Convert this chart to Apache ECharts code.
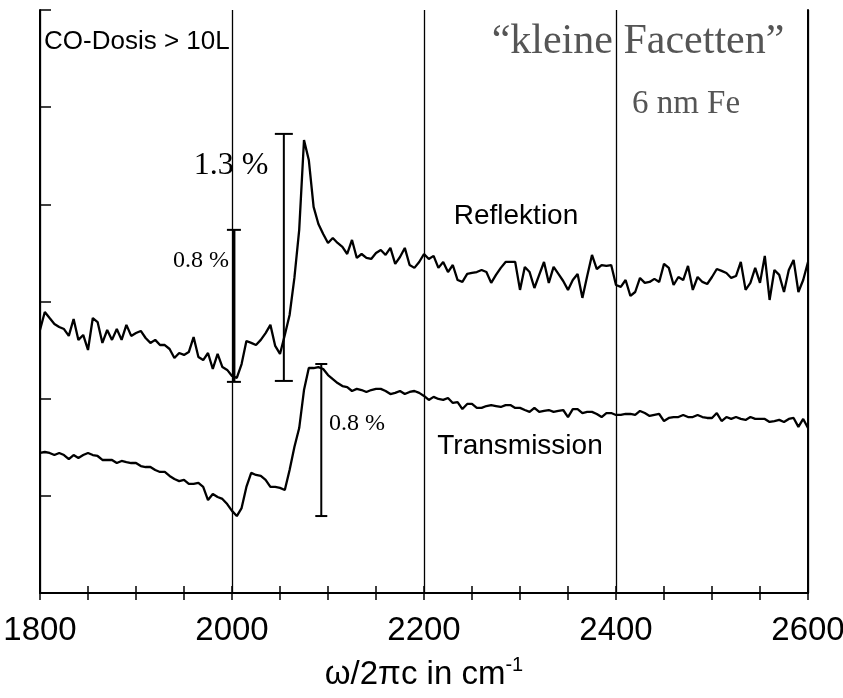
<!DOCTYPE html>
<html>
<head>
<meta charset="utf-8">
<script src="https://cdn.jsdelivr.net/npm/echarts@6/dist/echarts.min.js"></script>
<style>
  html, body { margin: 0; padding: 0; background: #fff; }
  #chart { width: 843px; height: 698px; }
</style>
</head>
<body>
<div id="chart"></div>
<script>
// Spectra sampled every 5 cm^-1 from 1800 to 2600 cm^-1, values in % (curves vertically offset)
const waveStart = 1800;
const waveStep = 5;

const reflection = [
  1.384, 1.479, 1.447, 1.416, 1.400, 1.389, 1.353, 1.442, 1.332, 1.358,
  1.279, 1.447, 1.426, 1.316, 1.384, 1.332, 1.389, 1.332, 1.411, 1.353,
  1.368, 1.379, 1.342, 1.316, 1.332, 1.305, 1.305, 1.284, 1.237, 1.263,
  1.253, 1.268, 1.347, 1.242, 1.226, 1.263, 1.179, 1.258, 1.189, 1.174,
  1.142, 1.132, 1.205, 1.326, 1.316, 1.305, 1.332, 1.368, 1.411, 1.300,
  1.258, 1.358, 1.463, 1.658, 1.911, 2.384, 2.279, 2.032, 1.942, 1.889,
  1.842, 1.868, 1.842, 1.821, 1.784, 1.858, 1.763, 1.784, 1.763, 1.758,
  1.789, 1.805, 1.779, 1.816, 1.732, 1.768, 1.816, 1.726, 1.711, 1.742,
  1.784, 1.758, 1.774, 1.711, 1.742, 1.689, 1.726, 1.647, 1.637, 1.679,
  1.684, 1.689, 1.700, 1.689, 1.632, 1.674, 1.711, 1.742, 1.742, 1.742,
  1.595, 1.716, 1.689, 1.605, 1.674, 1.742, 1.632, 1.716, 1.679, 1.642,
  1.595, 1.647, 1.679, 1.553, 1.668, 1.779, 1.705, 1.726, 1.721, 1.726,
  1.621, 1.611, 1.647, 1.563, 1.584, 1.658, 1.632, 1.637, 1.653, 1.637,
  1.732, 1.711, 1.621, 1.663, 1.647, 1.721, 1.595, 1.663, 1.637, 1.626,
  1.663, 1.705, 1.695, 1.684, 1.658, 1.668, 1.742, 1.595, 1.632, 1.711,
  1.632, 1.774, 1.542, 1.700, 1.674, 1.584, 1.700, 1.753, 1.584, 1.647,
  1.742
];

const transmission = [
  0.737, 0.742, 0.737, 0.726, 0.737, 0.726, 0.705, 0.726, 0.711, 0.726,
  0.737, 0.726, 0.721, 0.700, 0.700, 0.700, 0.684, 0.695, 0.689, 0.684,
  0.684, 0.668, 0.663, 0.663, 0.647, 0.637, 0.637, 0.616, 0.600, 0.589,
  0.595, 0.574, 0.574, 0.579, 0.558, 0.489, 0.521, 0.505, 0.495, 0.468,
  0.432, 0.405, 0.447, 0.558, 0.632, 0.621, 0.616, 0.595, 0.558, 0.558,
  0.553, 0.542, 0.647, 0.768, 0.868, 1.068, 1.184, 1.184, 1.189, 1.179,
  1.147, 1.126, 1.105, 1.089, 1.084, 1.063, 1.074, 1.068, 1.058, 1.068,
  1.074, 1.074, 1.063, 1.047, 1.053, 1.063, 1.047, 1.058, 1.063, 1.053,
  1.037, 1.016, 1.032, 1.021, 1.016, 1.026, 1.000, 1.005, 0.968, 0.995,
  0.995, 0.974, 0.974, 0.984, 0.989, 0.984, 0.979, 0.989, 0.989, 0.974,
  0.974, 0.963, 0.953, 0.974, 0.953, 0.958, 0.963, 0.953, 0.958, 0.963,
  0.926, 0.968, 0.968, 0.947, 0.953, 0.953, 0.942, 0.926, 0.947, 0.947,
  0.937, 0.937, 0.942, 0.942, 0.937, 0.958, 0.947, 0.932, 0.937, 0.942,
  0.905, 0.921, 0.926, 0.926, 0.937, 0.926, 0.926, 0.937, 0.926, 0.921,
  0.921, 0.947, 0.905, 0.926, 0.916, 0.926, 0.916, 0.911, 0.926, 0.916,
  0.916, 0.916, 0.900, 0.905, 0.911, 0.900, 0.916, 0.921, 0.874, 0.916,
  0.868
];

// Scale bars: position (cm^-1), lower end (%), length (%)
const scaleBarWave = [2002, 2054, 2093];
const scaleBarBase = [1.111, 1.116, 0.405];
const scaleBarSize = [0.8, 1.3, 0.8];
const scaleBarLabels = ['0.8 %', '1.3 %', '0.8 %'];

const xTicks = [1800, 2000, 2200, 2400, 2600];
const yMax = 3.068;

const toPairs = arr => arr.map((v, i) => [waveStart + i * waveStep, v]);

const sans = "'Liberation Sans', Arial, sans-serif";
const serif = "'Liberation Serif', 'Times New Roman', serif";

const chart = echarts.init(document.getElementById('chart'), null, { renderer: 'canvas' });

const barData = scaleBarWave.map((w, i) => [w, scaleBarBase[i], scaleBarBase[i] + scaleBarSize[i]]);
const capHalf = [7, 9, 6];
const barWidth = [3, 2, 2];

chart.setOption({
  animation: false,
  backgroundColor: '#fff',
  grid: { left: 40, right: 35, top: 10, bottom: 105, containLabel: false, outerBoundsMode: 'none' },
  xAxis: [
    {
      type: 'value', min: xTicks[0], max: xTicks[xTicks.length - 1], interval: 200,
      position: 'bottom',
      axisLine: { lineStyle: { color: '#000', width: 2 } },
      axisTick: { inside: true, length: 7, lineStyle: { color: '#000', width: 1.5 } },
      minorTick: { show: true, splitNumber: 4, length: 7, lineStyle: { color: '#000', width: 1.5 } },
      axisLabel: { color: '#000', fontSize: 33, fontFamily: sans, margin: 21, formatter: v => String(v) },
      splitLine: { show: true, lineStyle: { color: '#000', width: 1.3 } },
      name: '{a|ω/2πc in cm}{b|-1}',
      nameLocation: 'middle',
      nameGap: 62,
      nameTextStyle: {
        rich: {
          a: { fontSize: 33, fontFamily: sans, color: '#000', lineHeight: 40 },
          b: { fontSize: 20, fontFamily: sans, color: '#000', lineHeight: 20, verticalAlign: 'top' }
        }
      }
    },
    {
      type: 'value', min: xTicks[0], max: xTicks[xTicks.length - 1], interval: 200,
      position: 'top',
      axisLine: { lineStyle: { color: '#000', width: 2 } },
      axisTick: { inside: true, length: 7, lineStyle: { color: '#000', width: 1.5 } },
      minorTick: { show: true, splitNumber: 4, length: 7, lineStyle: { color: '#000', width: 1.5 } },
      axisLabel: { show: false },
      splitLine: { show: false }
    }
  ],
  yAxis: [
    {
      type: 'value', min: 0, max: yMax, interval: yMax / 6,
      position: 'left',
      axisLine: { show: true, lineStyle: { color: '#000', width: 2 } },
      axisTick: { show: true, inside: true, length: 11, lineStyle: { color: '#000', width: 1.5 } },
      axisLabel: { show: false },
      splitLine: { show: false }
    },
    {
      type: 'value', min: 0, max: yMax,
      position: 'right',
      axisLine: { show: true, lineStyle: { color: '#000', width: 2 } },
      axisTick: { show: false },
      axisLabel: { show: false },
      splitLine: { show: false }
    }
  ],
  series: [
    {
      name: 'Reflektion', type: 'line', data: toPairs(reflection),
      showSymbol: false, symbol: 'none',
      lineStyle: { color: '#000', width: 2.3 }, z: 5
    },
    {
      name: 'Transmission', type: 'line', data: toPairs(transmission),
      showSymbol: false, symbol: 'none',
      lineStyle: { color: '#000', width: 2.3 }, z: 5
    },
    {
      name: 'scale', type: 'custom', data: barData, z: 6,
      renderItem: function (params, api) {
        const i = params.dataIndex;
        const lo = api.coord([api.value(0), api.value(1)]);
        const hi = api.coord([api.value(0), api.value(2)]);
        const h = capHalf[i];
        const st = { stroke: '#000', lineWidth: barWidth[i] };
        const capSt = { stroke: '#000', lineWidth: 2 };
        return {
          type: 'group',
          children: [
            { type: 'line', shape: { x1: lo[0], y1: lo[1], x2: hi[0], y2: hi[1] }, style: st },
            { type: 'line', shape: { x1: lo[0] - h, y1: lo[1], x2: lo[0] + h, y2: lo[1] }, style: capSt },
            { type: 'line', shape: { x1: hi[0] - h, y1: hi[1], x2: hi[0] + h, y2: hi[1] }, style: capSt }
          ]
        };
      }
    }
  ],
  graphic: [
    { type: 'text', left: 44, top: 29, style: { text: 'CO-Dosis > 10L', font: '26px ' + sans, fill: '#000' } },
    { type: 'text', x: 638, y: 42, style: { text: '“kleine Facetten”', font: '42px ' + serif, fill: '#555', textAlign: 'center', textVerticalAlign: 'middle' } },
    { type: 'text', x: 686, y: 104, style: { text: '6 nm Fe', font: '33px ' + serif, fill: '#555', textAlign: 'center', textVerticalAlign: 'middle' } },
    { type: 'text', x: 231, y: 166, style: { text: scaleBarLabels[1], font: '32px ' + serif, fill: '#000', textAlign: 'center', textVerticalAlign: 'middle' } },
    { type: 'text', x: 201, y: 261, style: { text: scaleBarLabels[0], font: '24px ' + serif, fill: '#000', textAlign: 'center', textVerticalAlign: 'middle' } },
    { type: 'text', x: 357, y: 424, style: { text: scaleBarLabels[2], font: '24px ' + serif, fill: '#000', textAlign: 'center', textVerticalAlign: 'middle' } },
    { type: 'text', x: 516, y: 216, style: { text: 'Reflektion', font: '28px ' + sans, fill: '#000', textAlign: 'center', textVerticalAlign: 'middle' } },
    { type: 'text', x: 520, y: 446, style: { text: 'Transmission', font: '28px ' + sans, fill: '#000', textAlign: 'center', textVerticalAlign: 'middle' } }
  ]
});
</script>
</body>
</html>
